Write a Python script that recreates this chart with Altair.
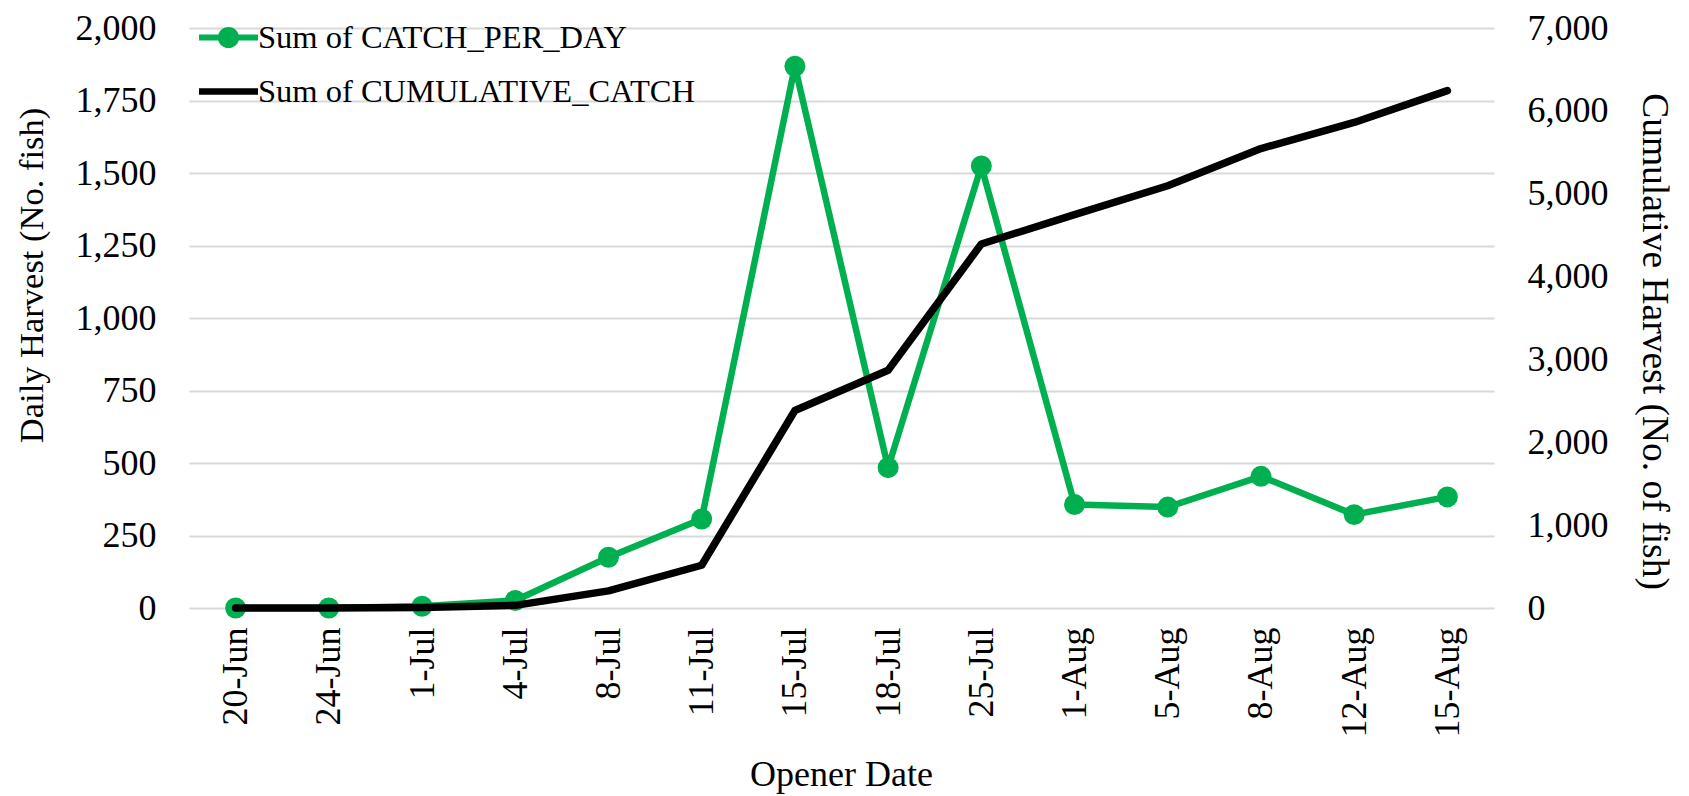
import altair as alt
import pandas as pd

dates = ["20-Jun", "24-Jun", "1-Jul", "4-Jul", "8-Jul", "11-Jul", "15-Jul",
         "18-Jul", "25-Jul", "1-Aug", "5-Aug", "8-Aug", "12-Aug", "15-Aug"]
catch_per_day = [0, 0, 6, 26, 175, 307, 1868, 484, 1524, 357, 348, 454, 322, 383]
cumulative_catch = [0, 0, 6, 32, 207, 516, 2383, 2870, 4393, 4748, 5096, 5545, 5860, 6244]
series_names = ["Sum of CATCH_PER_DAY", "Sum of CUMULATIVE_CATCH"]
series_colors = ["#00B050", "#000000"]
legend_symbols = [
    "M-1,-0.1H1V0.1H-1Z M0.36,0A0.36,0.36,0,1,1,-0.36,0A0.36,0.36,0,1,1,0.36,0Z",
    "M-1,-0.11H1V0.11H-1Z",
]
left_ticks = [0, 250, 500, 750, 1000, 1250, 1500, 1750, 2000]
right_ticks = [0, 1000, 2000, 3000, 4000, 5000, 6000, 7000]

df = pd.DataFrame({"date": dates, "daily": catch_per_day, "cum": cumulative_catch})
legend_df = pd.DataFrame({"series": series_names})

FONT = "Liberation Serif"
GREEN = series_colors[0]

x_enc = alt.X(
    "date:N", sort=dates,
    scale=alt.Scale(type="point", padding=0.5),
    axis=alt.Axis(
        title="Opener Date", titleFont=FONT, titleFontSize=36, titleFontWeight="normal",
        titleColor="black", titleX=652, titleY=166, titleBaseline="middle",
        labelFont=FONT, labelFontSize=36, labelColor="black", labelAngle=-90,
        labelAlign="right", labelBaseline="middle", labelPadding=19,
        ticks=False, tickSize=0, domain=False, grid=False, labelOverlap=False,
    ),
)

left_axis = alt.Axis(
    values=left_ticks, format=",d", title="Daily Harvest (No. fish)",
    titleFont=FONT, titleFontSize=34.5, titleFontWeight="normal", titleColor="black",
    titleAngle=-90, titleX=-157, titleY=247, titleAlign="center", titleBaseline="middle",
    labelFont=FONT, labelFontSize=36, labelColor="black", labelPadding=33,
    ticks=False, tickSize=0, domain=False, grid=True, gridColor="#d9d9d9", gridWidth=2,
)

right_axis = alt.Axis(
    orient="right", values=right_ticks, format=",d", title="Cumulative Harvest (No. of fish)",
    titleFont=FONT, titleFontSize=37.5, titleFontWeight="normal", titleColor="black",
    titleAngle=90, titleX=159, titleY=313, titleAlign="center", titleBaseline="middle",
    labelFont=FONT, labelFontSize=36, labelColor="black", labelPadding=33,
    ticks=False, tickSize=0, domain=False, grid=False,
)

y_left = alt.Y("daily:Q", scale=alt.Scale(domain=[0, 2000], nice=False), axis=left_axis)

green_line = alt.Chart(df).mark_line(
    color=GREEN, strokeWidth=6.5, strokeJoin="round", strokeCap="round"
).encode(x=x_enc, y=y_left)

green_pts = alt.Chart(df).mark_point(
    filled=True, opacity=1, size=440, color=GREEN
).encode(x=x_enc, y=y_left)

leg = alt.Legend(
    title=None, orient="none", legendX=10, legendY=-20, direction="vertical",
    labelFont=FONT, labelFontSize=32.5, labelColor="black", labelOffset=0, labelLimit=0,
    symbolSize=3481, symbolStrokeWidth=0, symbolOpacity=1, padding=0, rowPadding=8,
)

legend_layer = alt.Chart(legend_df).mark_point(filled=True, opacity=0, size=0).encode(
    color=alt.Color("series:N", scale=alt.Scale(domain=series_names, range=series_colors), legend=leg),
    shape=alt.Shape("series:N", scale=alt.Scale(domain=series_names, range=legend_symbols), legend=leg),
)

black_line = alt.Chart(df).mark_line(
    color="black", strokeWidth=7.5, strokeJoin="round", strokeCap="round"
).encode(
    x=x_enc,
    y=alt.Y("cum:Q", scale=alt.Scale(domain=[0, 7000], nice=False), axis=right_axis),
)

chart = alt.layer(alt.layer(green_line, green_pts, legend_layer), black_line).resolve_scale(
    y="independent"
).properties(
    width=1305, height=580,
    autosize=alt.AutoSizeParams(type="none"),
    padding={"left": 181, "top": 20, "right": 187, "bottom": 187},
    background="white",
).configure_view(stroke=None)

chart.save("out.html", embed_options={"renderer": "svg", "actions": False})
